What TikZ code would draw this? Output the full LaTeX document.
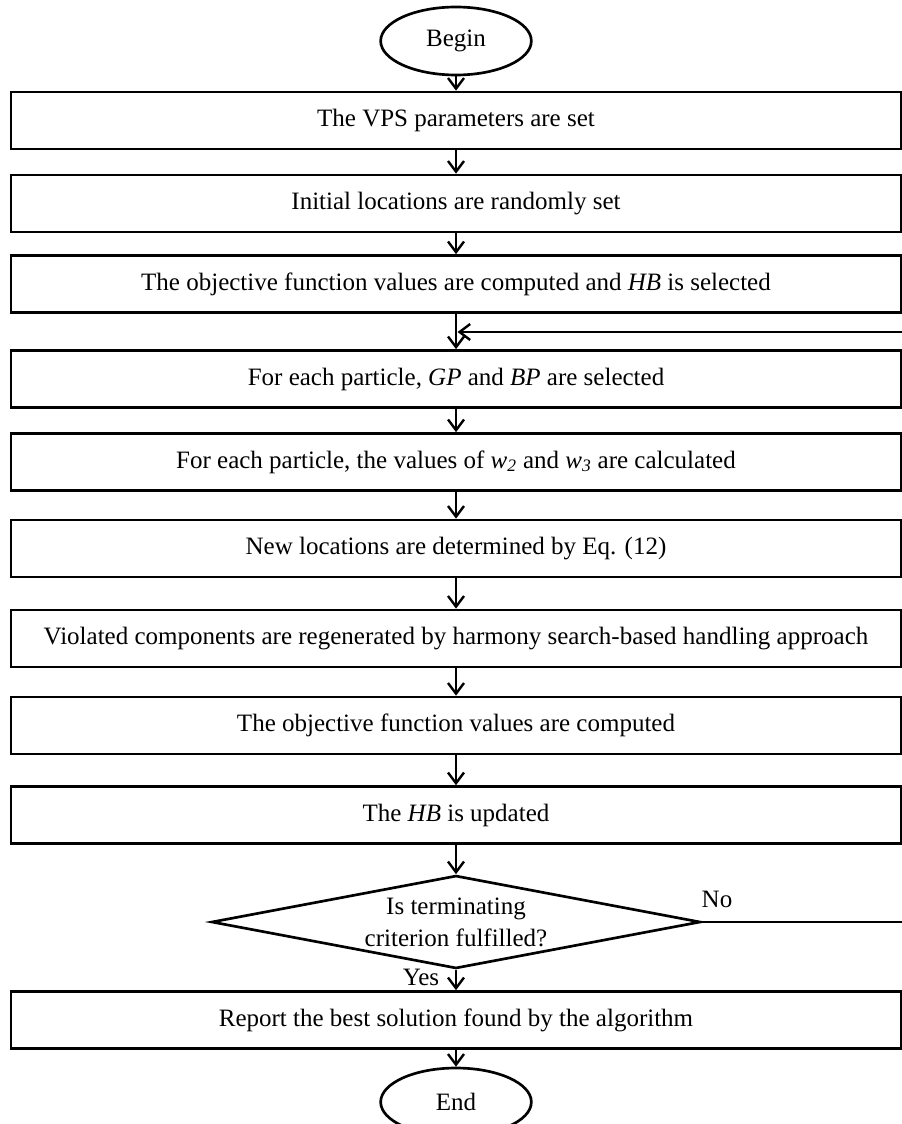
\documentclass[tikz,border=0pt]{standalone}
\usepackage{fontspec}
\setmainfont{Liberation Serif}
\usetikzlibrary{shapes.geometric,arrows.meta}
\begin{document}
\begin{tikzpicture}[x=0.75pt,y=-0.75pt,
  every node/.style={font=\fontsize{18.75}{24}\selectfont},
  stepbox/.style={draw, line width=2pt, minimum width=667.5pt, minimum height=42.75pt, inner sep=0pt},
  term/.style={draw, ellipse, line width=2pt, minimum width=113pt, minimum height=51pt, inner sep=0pt},
  decide/.style={draw, diamond, shape aspect=5.26, line width=2pt, minimum width=366.75pt, minimum height=69.75pt, inner sep=0pt, align=center},
  conn/.style={line width=2pt},
  arr/.style={line width=2pt, -{Straight Barb[length=8pt,width=12pt,line width=1.8pt]}},
  lbl/.style={inner sep=0pt}]
\useasboundingbox (0,0) rectangle (901,1124);
\node[term] (begin) at (456,41) {Begin};
\node[stepbox] (b1) at (456,120.5) {The VPS parameters are set};
\node[stepbox] (b2) at (456,203.5) {Initial locations are randomly set};
\node[stepbox] (b3) at (456,284) {The objective function values are computed and \textit{HB} is selected};
\node[stepbox] (b4) at (456,379) {For each particle, \textit{GP} and \textit{BP} are selected};
\node[stepbox] (b5) at (456,462) {For each particle, the values of \textit{w\textsubscript{2}} and \textit{w\textsubscript{3}} are calculated};
\node[stepbox] (b6) at (456,548.5) {New locations are determined by Eq. (12)};
\node[stepbox] (b7) at (456,638.5) {Violated components are regenerated by harmony search-based handling approach};
\node[stepbox] (b8) at (456,725.5) {The objective function values are computed};
\node[stepbox] (b9) at (456,815) {The \textit{HB} is updated};
\node[decide] (dec) at (456,922) {Is terminating\\criterion fulfilled?};
\node[stepbox] (b10) at (456,1020) {Report the best solution found by the algorithm};
\node[term] (end) at (456,1102) {End};
\node[lbl] (no) at (717,899) {No};
\node[lbl] (yes) at (421,977) {Yes};
\coordinate (r1) at (904,922);
\coordinate (r2) at (904,332);
\coordinate (m1) at (457.5,332);
\draw[arr] (begin) -- (b1);
\draw[arr] (b1) -- (b2);
\draw[arr] (b2) -- (b3);
\draw[arr] (b3) -- (b4);
\draw[arr] (b4) -- (b5);
\draw[arr] (b5) -- (b6);
\draw[arr] (b6) -- (b7);
\draw[arr] (b7) -- (b8);
\draw[arr] (b8) -- (b9);
\draw[arr] (b9) -- (dec);
\draw[arr] (dec) -- (b10);
\draw[arr] (b10) -- (end);
\draw[conn] (dec.east) -- (r1) -- (r2);
\draw[arr] (r2) -- (m1);
\end{tikzpicture}
\end{document}
